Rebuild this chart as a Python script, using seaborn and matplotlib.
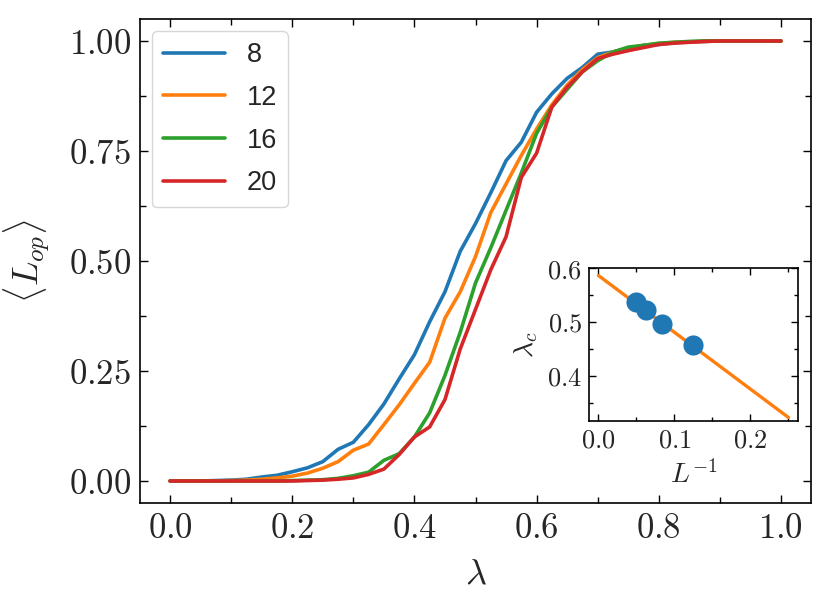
import numpy as np
import pandas as pd
import matplotlib
matplotlib.use('Agg')
import matplotlib.pyplot as plt
from matplotlib.ticker import MultipleLocator, FuncFormatter
import seaborn as sns

# order parameter <L_op> vs lambda for system sizes L
lam = [0.0, 0.025, 0.05, 0.075, 0.1, 0.125, 0.15, 0.175, 0.2, 0.225,
       0.25, 0.275, 0.3, 0.325, 0.35, 0.375, 0.4, 0.425, 0.45, 0.475,
       0.5, 0.525, 0.55, 0.575, 0.6, 0.625, 0.65, 0.675, 0.7, 0.725,
       0.75, 0.775, 0.8, 0.825, 0.85, 0.875, 0.9, 0.925, 0.95, 0.975, 1.0]

lop_8 = [0.0, 0.0, 0.0, 0.001, 0.002, 0.004, 0.009, 0.013, 0.021, 0.030,
         0.044, 0.072, 0.088, 0.128, 0.175, 0.232, 0.287, 0.362, 0.430, 0.522,
         0.585, 0.655, 0.728, 0.770, 0.838, 0.880, 0.915, 0.940, 0.970, 0.975,
         0.983, 0.990, 0.992, 0.996, 0.998, 0.999, 1.0, 1.0, 1.0, 1.0, 1.0]
lop_12 = [0.0, 0.0, 0.0, 0.0, 0.001, 0.002, 0.004, 0.007, 0.011, 0.018,
          0.029, 0.044, 0.070, 0.084, 0.128, 0.173, 0.222, 0.270, 0.370, 0.430,
          0.510, 0.610, 0.675, 0.740, 0.800, 0.855, 0.900, 0.935, 0.962, 0.975,
          0.984, 0.990, 0.994, 0.997, 0.998, 0.999, 1.0, 1.0, 1.0, 1.0, 1.0]
lop_16 = [0.0, 0.0, 0.0, 0.0, 0.0, 0.0, 0.0, 0.0, 0.001, 0.002,
          0.003, 0.006, 0.012, 0.020, 0.047, 0.062, 0.100, 0.155, 0.240, 0.338,
          0.450, 0.530, 0.615, 0.700, 0.790, 0.850, 0.890, 0.930, 0.955, 0.975,
          0.986, 0.990, 0.995, 0.997, 0.999, 1.0, 1.0, 1.0, 1.0, 1.0, 1.0]
lop_20 = [0.0, 0.0, 0.0, 0.0, 0.0, 0.0, 0.0, 0.0, 0.0, 0.001,
          0.002, 0.004, 0.007, 0.015, 0.027, 0.060, 0.100, 0.123, 0.185, 0.300,
          0.390, 0.480, 0.555, 0.690, 0.745, 0.850, 0.895, 0.930, 0.960, 0.970,
          0.978, 0.985, 0.992, 0.995, 0.997, 0.999, 1.0, 1.0, 1.0, 1.0, 1.0]

sizes = ['8', '12', '16', '20']
curves = [lop_8, lop_12, lop_16, lop_20]

# inset: critical lambda vs 1/L with linear fit
inv_L = [0.125, 0.0833, 0.0625, 0.05]
lam_c = [0.458, 0.496, 0.522, 0.537]
fit_x = [0.0, 0.25]
fit_y = [0.586, 0.323]

sns.set_theme(style='ticks')
plt.rcParams['font.family'] = ['DejaVu Sans']
plt.rcParams['mathtext.fontset'] = 'cm'

colors = sns.color_palette('tab10', 4)

df = pd.DataFrame({
    'lam': lam * 4,
    'lop': sum(curves, []),
    'L': sum([[s] * len(lam) for s in sizes], []),
})

fig = plt.figure(figsize=(8.3, 6.08), dpi=100)
ax = fig.add_axes([0.1681, 0.1727, 0.8096, 0.7961])

sns.lineplot(data=df, x='lam', y='lop', hue='L', palette=colors,
             linewidth=2.6, ax=ax)

handles, labels = ax.get_legend_handles_labels()
ax.legend(handles, labels, loc='upper left', handlelength=2.3,
          labelspacing=0.62, handletextpad=0.8,
          prop={'family': 'Liberation Sans', 'size': 19.5},
          edgecolor='0.8', fancybox=True, borderaxespad=0.45)

ax.set_xlabel(r'$\lambda$', fontsize=26, labelpad=8)
ax.set_ylabel(r'$\langle L_{op} \rangle$', fontsize=26, labelpad=12)

ax.xaxis.set_major_locator(MultipleLocator(0.2))
ax.xaxis.set_minor_locator(MultipleLocator(0.1))
ax.yaxis.set_major_locator(MultipleLocator(0.25))
ax.yaxis.set_minor_locator(MultipleLocator(0.125))
ax.xaxis.set_major_formatter(FuncFormatter(lambda v, p: f'${v:.1f}$'))
ax.yaxis.set_major_formatter(FuncFormatter(lambda v, p: f'${v:.2f}$'))
ax.tick_params(which='both', direction='in', top=True, right=True,
               labelsize=25, width=1.0, color='black', pad=6)
ax.tick_params(which='major', length=6)
ax.tick_params(which='minor', length=4)
for sp in ax.spines.values():
    sp.set_linewidth(1.2)
    sp.set_color('black')

# inset
axin = fig.add_axes([0.7096, 0.3076, 0.2518, 0.2516])
sns.lineplot(x=fit_x, y=fit_y, color=colors[1], linewidth=2.4, ax=axin, zorder=1)
sns.scatterplot(x=inv_L, y=lam_c, color=colors[0], s=210, linewidth=0,
                ax=axin, zorder=2)
axin.set_ylim(0.3165, 0.6)
axin.set_xlabel(r'$L^{-1}$', fontsize=20, labelpad=5)
axin.set_ylabel(r'$\lambda_c$', fontsize=20, labelpad=5)
axin.xaxis.set_major_locator(MultipleLocator(0.1))
axin.xaxis.set_minor_locator(MultipleLocator(0.05))
axin.yaxis.set_major_locator(MultipleLocator(0.1))
axin.yaxis.set_minor_locator(MultipleLocator(0.05))
axin.xaxis.set_major_formatter(FuncFormatter(lambda v, p: f'${v:.1f}$'))
axin.yaxis.set_major_formatter(FuncFormatter(lambda v, p: f'${v:.1f}$'))
axin.tick_params(which='both', direction='in', top=True, right=True,
                 labelsize=19, width=1.0, color='black', pad=5)
axin.tick_params(which='major', length=5)
axin.tick_params(which='minor', length=3)
for sp in axin.spines.values():
    sp.set_linewidth(1.2)
    sp.set_color('black')

fig.savefig('out.png', dpi=100)
